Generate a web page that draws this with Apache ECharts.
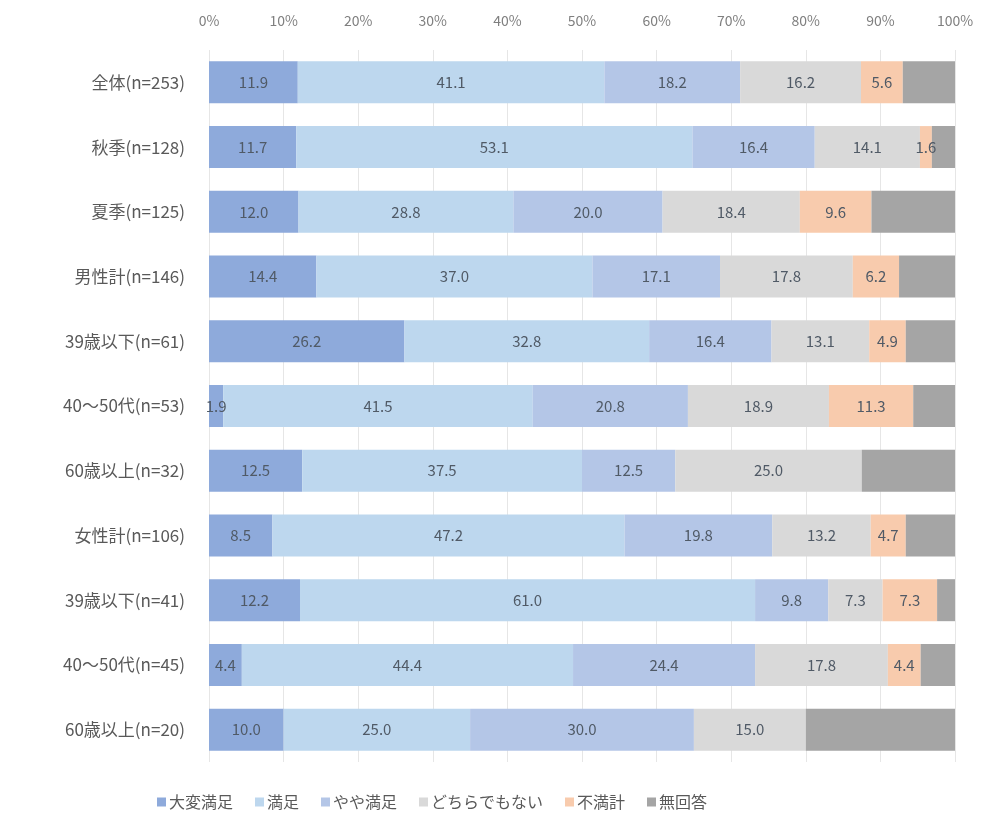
<!DOCTYPE html>
<html>
<head>
<meta charset="utf-8">
<script src="https://cdn.jsdelivr.net/npm/echarts@6/dist/echarts.min.js"></script>
<style>
  html, body { margin: 0; padding: 0; background: #fff; }
  #main { width: 984px; height: 820px; }
</style>
</head>
<body>
<div id="main"></div>
<script>
// categories, top to bottom
var categories = ['全体(n=253)', '秋季(n=128)', '夏季(n=125)', '男性計(n=146)', '39歳以下(n=61)', '40～50代(n=53)', '60歳以上(n=32)', '女性計(n=106)', '39歳以下(n=41)', '40～50代(n=45)', '60歳以上(n=20)'];
var seriesNames = ['大変満足', '満足', 'やや満足', 'どちらでもない', '不満計', '無回答'];
var tickLabels = ['0%', '10%', '20%', '30%', '40%', '50%', '60%', '70%', '80%', '90%', '100%'];

var veryGood = [11.9, 11.7, 12.0, 14.4, 26.2, 1.9, 12.5, 8.5, 12.2, 4.4, 10.0];
var good     = [41.1, 53.1, 28.8, 37.0, 32.8, 41.5, 37.5, 47.2, 61.0, 44.4, 25.0];
var fairly   = [18.2, 16.4, 20.0, 17.1, 16.4, 20.8, 12.5, 19.8, 9.8, 24.4, 30.0];
var neither  = [16.2, 14.1, 18.4, 17.8, 13.1, 18.9, 25.0, 13.2, 7.3, 17.8, 15.0];
var unhappy  = [5.6, 1.6, 9.6, 6.2, 4.9, 11.3, 0, 4.7, 7.3, 4.4, 0];
var noAnswer = [7.0, 3.1, 11.2, 7.5, 6.6, 5.6, 12.5, 6.6, 2.4, 4.6, 20.0];

var colors = ['#8eaadb', '#bdd7ee', '#b4c6e7', '#d9d9d9', '#f8cbad', '#a5a5a5'];
var allData = [veryGood, good, fairly, neither, unhappy, noAnswer];

var font = '"Noto Sans CJK JP", "Noto Sans", sans-serif';
var chart = echarts.init(document.getElementById('main'));

var series = [];
allData.forEach(function (arr, i) {
  series.push({
    name: seriesNames[i],
    type: 'bar',
    stack: 'total',
    barWidth: 42,
    data: arr,
    itemStyle: { color: colors[i] },
    label: {
      show: i < 5,
      position: 'inside',
      color: '#505a66',
      fontSize: 15,
      fontFamily: font,
      formatter: function (p) {
        return p.value > 0 ? p.value.toFixed(1) : '';
      }
    }
  });
});

var option = {
  animation: false,
  backgroundColor: '#fff',
  color: colors,
  textStyle: { fontFamily: font },
  grid: { left: 209, right: 29, top: 50, bottom: 58 },
  xAxis: {
    type: 'value',
    position: 'top',
    min: 0,
    max: 100,
    interval: 10,
    axisLine: { show: false },
    axisTick: { show: false },
    splitLine: { show: true, lineStyle: { color: '#e6e6e6', width: 1 } },
    axisLabel: {
      margin: 22,
      color: '#7f7f7f',
      fontSize: 14,
      fontFamily: font,
      formatter: function (v) { return tickLabels[Math.round(v / 10)]; }
    }
  },
  yAxis: {
    type: 'category',
    inverse: true,
    data: categories,
    axisLine: { show: false },
    axisTick: { show: false },
    axisLabel: { margin: 24, color: '#595959', fontSize: 17, fontFamily: font }
  },
  legend: {
    data: seriesNames,
    left: 152,
    top: 789,
    itemWidth: 9,
    itemHeight: 9,
    itemGap: 22,
    icon: 'rect',
    textStyle: { color: '#595959', fontSize: 16, fontFamily: font, padding: [0, 0, 0, -2] }
  },
  series: series
};
chart.setOption(option);
</script>
</body>
</html>
